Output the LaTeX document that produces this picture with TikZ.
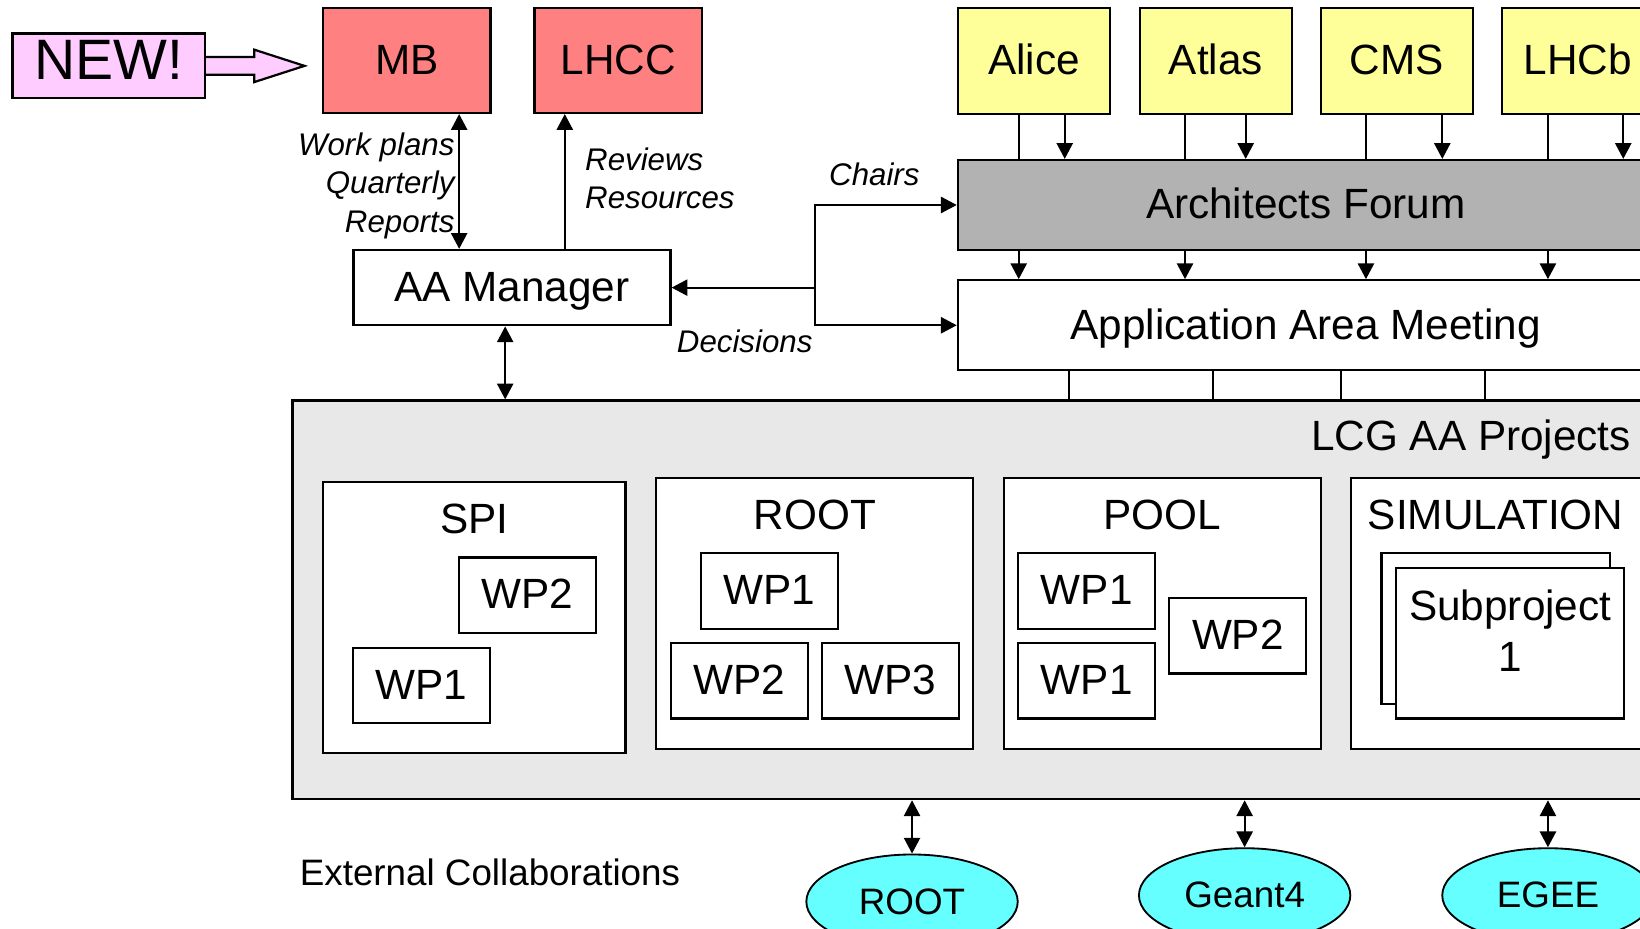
\documentclass[tikz,border=0pt]{standalone}
\usepackage{fontspec}
\setmainfont{Liberation Sans}
\usepackage{tikz}
\usetikzlibrary{arrows,arrows.meta,positioning,shapes.geometric}
\definecolor{boardred}{HTML}{FF8080}
\definecolor{exptyellow}{HTML}{FFFF99}
\definecolor{afgray}{HTML}{B2B2B2}
\definecolor{projgray}{HTML}{E8E8E8}
\definecolor{extcyan}{HTML}{66FFFF}
\definecolor{newpink}{HTML}{FFCCFF}

\begin{document}
\begin{tikzpicture}[x=0.01cm, y=-0.01cm, font=\fontsize{11.5}{13.8}\selectfont, >={Triangle[length=4.3pt,width=4.4pt]}]
\tikzstyle{block} = [rectangle, draw, line width=0.6pt, inner sep=0pt, text centered, text height=0.93em, text depth=0.18em]
\tikzstyle{board} = [block, fill=boardred, minimum width=1.6cm, minimum height=1cm]
\tikzstyle{expt} = [block, fill=exptyellow, minimum width=1.45cm, minimum height=1.01cm]
\tikzstyle{wide} = [block, minimum width=6.65cm, minimum height=0.86cm]
\tikzstyle{project} = [block, fill=white, minimum width=3.03cm, minimum height=2.59cm]
\tikzstyle{wp} = [block, fill=white, minimum width=1.31cm, minimum height=0.72cm]
\tikzstyle{extern} = [ellipse, draw, line width=0.5pt, fill=extcyan, inner sep=0pt, minimum width=2.02cm, minimum height=0.9cm, font=\fontsize{10}{12}\selectfont]
\tikzstyle{lbl} = [inner sep=1pt, font=\fontsize{8.5}{10.5}\selectfont\itshape]
\tikzstyle{arrow} = [->, line width=0.55pt]
\tikzstyle{dblarrow} = [<->, line width=0.55pt]
\tikzstyle{link} = [line width=0.55pt]

\useasboundingbox (0,0) rectangle (1568,888);
\clip (0,0) rectangle (1568,888);

% top row
\node (new) [block, fill=newpink, minimum width=1.84cm, minimum height=0.62cm, font=\fontsize{15.5}{18}\selectfont] at (104,63) {NEW!};
\node (mb) [board] at (389,58) {MB};
\node (lhcc) [board] at (591,58) {LHCC};
\node (alice) [expt] at (988.5,58.5) {Alice};
\node (atlas) [expt] at (1162.5,58.5) {Atlas};
\node (cms) [expt] at (1335.5,58.5) {CMS};
\node (lhcb) [expt] at (1508.5,58.5) {LHCb};
\draw[line width=0.6pt, fill=newpink] ([yshift=0.085cm]new.east) -- ++(46,0) -- ++(0,-7) -- ++(48,15.5) -- ++(-48,15.5) -- ++(0,-7) -- ([yshift=-0.085cm]new.east);

% forum, meeting, manager
\node (af) [wide, fill=afgray] at (1248.5,196) {Architects Forum};
\node (aam) [wide, fill=white] at (1248.5,311) {Application Area Meeting};
\node (mgr) [block, minimum width=3.03cm, minimum height=0.72cm] at (489.5,275) {AA Manager};

% projects
\node (proj) [block, fill=projgray, minimum width=13.1cm, minimum height=3.81cm] at (935,573.5) {};
\node (projt) [anchor=east, inner sep=0pt] at (1560,420) {LCG AA Projects};
\node (spi) [project, minimum width=2.89cm] at (453.5,590.5) {};
\node (spit) at (453.5,496) {SPI};
\node (spiwpb) [wp] at (504.5,569) {WP2};
\node (spiwpa) [wp] at (403,655.5) {WP1};
\node (rootp) [project] at (779,586.5) {};
\node (rootpt) at (779,492) {ROOT};
\node (rootwpa) [wp] at (735.5,565) {WP1};
\node (rootwpb) [wp] at (707,651) {WP2};
\node (rootwpc) [wp] at (851.5,651) {WP3};
\node (pool) [project] at (1111.5,586.5) {};
\node (poolt) at (1111.5,492) {POOL};
\node (poolwpa) [wp] at (1039,565) {WP1};
\node (poolwpb) [wp] at (1039,651) {WP1};
\node (poolwpc) [wp] at (1183.5,608) {WP2};
\node (sim) [project] at (1443.5,586.5) {};
\node (simt) at (1430,492) {SIMULATION};
\node (subb) [block, fill=white, minimum width=2.18cm, minimum height=1.44cm] at (1430,601) {};
\node (subf) [block, fill=white, minimum width=2.18cm, minimum height=1.44cm] at (1444,615) {};
\node (subt) [align=center, font=\fontsize{11.5}{14}\selectfont] at (1444,603) {Subproject\\1};

% external
\node (extt) [font=\fontsize{10}{12}\selectfont] at (468.5,834) {External Collaborations};
\node (rootx) [extern] at (872,862) {ROOT};
\node (geant) [extern] at (1190,856) {Geant4};
\node (egee) [extern] at (1480,856) {EGEE};

% connectors
\coordinate (mbx) at (439,0 |- mb.south);
\draw[dblarrow] (mbx) -- node[lbl, left, align=right, yshift=-0.04cm]{Work plans\\Quarterly\\Reports} (mbx |- mgr.north);
\coordinate (lhccx) at (540,0 |- lhcc.south);
\draw[arrow] (lhccx |- mgr.north) -- node[lbl, right, align=left, xshift=0.15cm, yshift=0.03cm]{Reviews\\Resources} (lhccx);
\draw[dblarrow] (483,0 |- mgr.south) -- (483,0 |- proj.north);
\coordinate (split) at (779,0 |- mgr.east);
\draw[arrow] (split) -- (mgr.east);
\draw[arrow] (split) |- (af.west);
\draw[arrow] (split) |- (aam.west);
\node (chairs) [lbl] at (836,167) {Chairs};
\node (dec) [lbl] at (712,326) {Decisions};

\draw[link] (974,0 |- alice.south) -- (974,0 |- af.north); \draw[arrow] (1018,0 |- alice.south) -- (1018,0 |- af.north);
\draw[link] (1133,0 |- atlas.south) -- (1133,0 |- af.north); \draw[arrow] (1191,0 |- atlas.south) -- (1191,0 |- af.north);
\draw[link] (1306,0 |- cms.south) -- (1306,0 |- af.north); \draw[arrow] (1379,0 |- cms.south) -- (1379,0 |- af.north);
\draw[link] (1480,0 |- lhcb.south) -- (1480,0 |- af.north); \draw[arrow] (1552,0 |- lhcb.south) -- (1552,0 |- af.north);

\draw[arrow] (974,0 |- af.south) -- (974,0 |- aam.north); \draw[arrow] (1133,0 |- af.south) -- (1133,0 |- aam.north);
\draw[arrow] (1306,0 |- af.south) -- (1306,0 |- aam.north); \draw[arrow] (1480,0 |- af.south) -- (1480,0 |- aam.north);

\draw[link] (1022,0 |- aam.south) -- (1022,0 |- proj.north); \draw[link] (1160,0 |- aam.south) -- (1160,0 |- proj.north);
\draw[link] (1282,0 |- aam.south) -- (1282,0 |- proj.north); \draw[link] (1420,0 |- aam.south) -- (1420,0 |- proj.north);

\draw[dblarrow] (rootx.north |- proj.south) -- (rootx.north);
\draw[dblarrow] (geant.north |- proj.south) -- (geant.north);
\draw[dblarrow] (egee.north |- proj.south) -- (egee.north);
\end{tikzpicture}
\end{document}
